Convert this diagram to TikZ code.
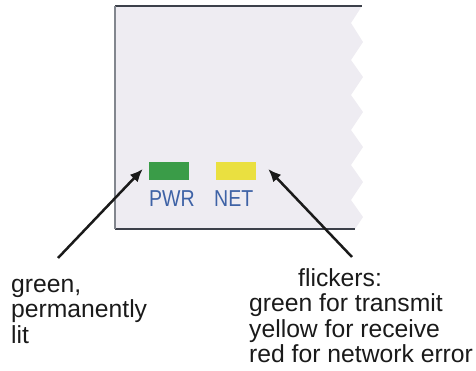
\documentclass[tikz,border=0pt]{standalone}
\usepackage{fontspec}
\setmainfont{Liberation Sans}
\usetikzlibrary{arrows.meta}
\definecolor{panelfill}{RGB}{238,236,242}
\definecolor{paneledge}{RGB}{60,64,74}
\definecolor{panelside}{RGB}{130,134,142}
\definecolor{ledgreen}{RGB}{58,156,72}
\definecolor{ledyellow}{RGB}{234,224,64}
\definecolor{labelblue}{RGB}{62,98,166}
\definecolor{ink}{RGB}{26,26,26}
\tikzset{
  led/.style={rectangle, inner sep=0pt, minimum width=40pt, minimum height=18pt},
  ledlabel/.style={anchor=base west, inner sep=0pt, text=labelblue,
    font=\fontsize{23}{25}\selectfont},
  note/.style={anchor=base west, inner sep=0pt, text=ink,
    font=\fontsize{24.7}{26}\selectfont},
  pointer/.style={draw=ink, line width=2.5pt,
    -{Latex[length=13pt,width=11pt]}}
}
\begin{document}
\begin{tikzpicture}[x=1pt, y=-1pt]
  \useasboundingbox (0,0) rectangle (476,371);
  % device front panel with torn right edge
  \fill[panelfill] (115,6) -- (362,6) -- (351,23) -- (363,42) -- (351,60)
    -- (363,77) -- (351,95) -- (363,112) -- (351,130) -- (363,147)
    -- (351,165) -- (363,182) -- (351,200) -- (363,217) -- (355,229)
    -- (115,229) -- cycle;
  \draw[paneledge, line width=1.3pt] (115,6) -- (362,6);
  \draw[paneledge, line width=1.3pt] (115,229) -- (355,229);
  \draw[panelside, line width=2pt] (115,6) -- (115,229);
  % status LEDs
  \node[led, fill=ledgreen] (pwrled) at (169,171) {};
  \node[led, fill=ledyellow] (netled) at (236,171) {};
  \node[ledlabel] (pwrlabel) at (149,207) {\scalebox{0.85}[1]{PWR}};
  \node[ledlabel] (netlabel) at (214,207) {\scalebox{0.85}[1]{NET}};
  % explanations
  \node[note] (l1) at (11,292) {green,};
  \node[note] (l2) at (11,317) {permanently};
  \node[note] (l3) at (11,343) {lit};
  \node[note] (r1) at (298,286) {flickers:};
  \node[note] (r2) at (249,311) {green for transmit};
  \node[note] (r3) at (249,337) {yellow for receive};
  \node[note] (r4) at (249,362) {red for network error};
  % pointers
  \coordinate (ltail) at (58,258);
  \coordinate (rtail) at (352,257);
  \draw[pointer] (ltail) -- ([xshift=-6pt,yshift=2pt]pwrled.west);
  \draw[pointer] (rtail) -- ([xshift=12pt,yshift=2pt]netled.east);
\end{tikzpicture}
\end{document}
